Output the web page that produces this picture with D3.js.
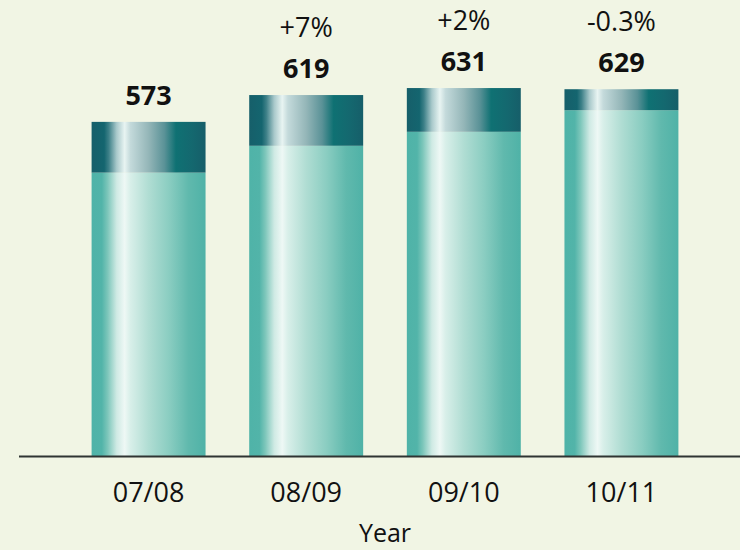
<!DOCTYPE html>
<html>
<head>
<meta charset="utf-8">
<script src="https://cdn.jsdelivr.net/npm/d3@7"></script>
<style>
    html, body { margin: 0; padding: 0; background: #f1f5e4; }
    svg { display: block; }
    text { font-family: "Open Sans", "Noto Sans", sans-serif; fill: #111; }
</style>
</head>
<body>
<svg id="chart"></svg>
<script>
"use strict";

// данные графика
const years = ["07/08", "08/09", "09/10", "10/11"];
const totals = [573, 619, 631, 629];          // подписи над столбцами
const lowerValues = [486, 532, 556, 593];     // светлая (нижняя) часть
const changes = ["", "+7%", "+2%", "-0.3%"];  // изменение к прошлому году

const width = 740, height = 550;
const baseline = 456;

const svg = d3.select("#chart")
    .attr("width", width)
    .attr("height", height);

// фон
svg.append("rect")
    .attr("width", width)
    .attr("height", height)
    .attr("fill", "#f1f5e4");

// горизонтальные градиенты "цилиндра"
const defs = svg.append("defs");

function addGradient(id, stops) {
    const g = defs.append("linearGradient")
        .attr("id", id)
        .attr("x1", 0).attr("y1", 0)
        .attr("x2", 1).attr("y2", 0);
    stops.forEach(([offset, color]) => {
        g.append("stop").attr("offset", offset).attr("stop-color", color);
    });
}

addGradient("grad-lower", [
    ["0%", "#4fb3a8"], ["9%", "#52b4a9"], ["14%", "#7cc6ba"],
    ["22%", "#cfeae4"], ["29%", "#eef8f5"], ["34%", "#d8efe9"],
    ["50%", "#b0ddd3"], ["68%", "#8acdc1"], ["85%", "#60b9ad"],
    ["100%", "#4fb2a7"]
]);

addGradient("grad-upper", [
    ["0%", "#165f6a"], ["11%", "#14656f"], ["15%", "#3d8088"],
    ["22%", "#a9c9cb"], ["29%", "#e8f4f2"], ["34%", "#c4dadb"],
    ["50%", "#94b6b8"], ["64%", "#5a9297"], ["74%", "#0f7173"],
    ["88%", "#14686f"], ["100%", "#165e69"]
]);

// шкалы
const x = d3.scaleBand()
    .domain(years)
    .range([70, 700])
    .paddingInner(0.277)
    .paddingOuter(0.137);

const y = d3.scaleLinear()
    .domain([0, 782])
    .range([baseline, 0]);

const data = years.map((yr, i) => ({
    year: yr,
    total: totals[i],
    lower: lowerValues[i],
    change: changes[i]
}));

// нижняя часть столбца
svg.append("g")
    .selectAll("rect")
    .data(data)
    .join("rect")
    .attr("x", d => x(d.year))
    .attr("width", x.bandwidth())
    .attr("y", d => y(d.lower))
    .attr("height", d => y(0) - y(d.lower))
    .attr("fill", "url(#grad-lower)");

// верхняя (тёмная) часть столбца
svg.append("g")
    .selectAll("rect")
    .data(data)
    .join("rect")
    .attr("x", d => x(d.year))
    .attr("width", x.bandwidth())
    .attr("y", d => y(d.total))
    .attr("height", d => y(d.lower) - y(d.total))
    .attr("fill", "url(#grad-upper)");

// подписи значений
svg.append("g")
    .selectAll("text")
    .data(data)
    .join("text")
    .attr("x", d => x(d.year) + x.bandwidth() / 2)
    .attr("y", d => y(d.total) - 17)
    .attr("text-anchor", "middle")
    .style("font-size", "27px")
    .style("font-weight", "bold")
    .text(d => d.total);

// проценты изменения
svg.append("g")
    .selectAll("text")
    .data(data.filter(d => d.change))
    .join("text")
    .attr("x", d => x(d.year) + x.bandwidth() / 2)
    .attr("y", d => y(d.total) - 58)
    .attr("text-anchor", "middle")
    .style("font-size", "27px")
    .text(d => d.change);

// ось X
const xAxis = svg.append("g")
    .attr("transform", `translate(0,${baseline})`)
    .call(d3.axisBottom(x).tickSize(0).tickPadding(27));
xAxis.select(".domain").remove();
xAxis.selectAll("text")
    .style("font-size", "27px")
    .style("font-family", "\"Open Sans\", \"Noto Sans\", sans-serif")
    .attr("fill", "#111");

svg.append("line")
    .attr("x1", 19)
    .attr("x2", width)
    .attr("y1", baseline + 0.5)
    .attr("y2", baseline + 0.5)
    .attr("stroke", "#2f3432")
    .attr("stroke-width", 2.2);

// подпись оси
svg.append("text")
    .attr("x", (x.range()[0] + x.range()[1]) / 2)
    .attr("y", 542)
    .attr("text-anchor", "middle")
    .style("font-size", "25px")
    .text("Year");
</script>
</body>
</html>
